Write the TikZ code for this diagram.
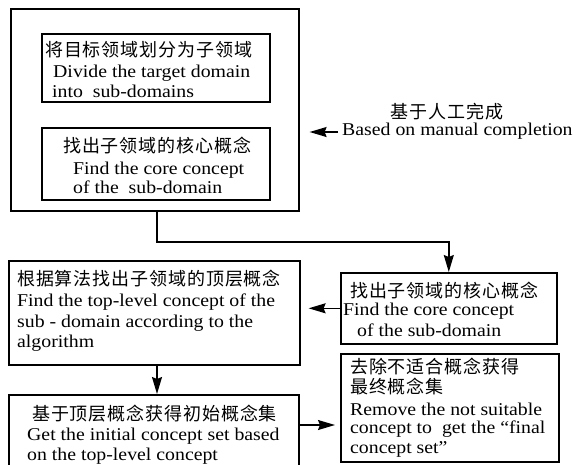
\documentclass[tikz,border=0pt]{standalone}
\usepackage{fontspec}
\setmainfont[FakeStretch=1.1]{Liberation Serif}
\newfontfamily\cjk[LetterSpace=5]{Noto Sans CJK SC}
\usetikzlibrary{arrows.meta,calc}
\begin{document}
\begin{tikzpicture}[x=1pt,y=-1pt,
  box/.style={draw,line width=1.6pt,inner sep=0pt,anchor=north west},
  en/.style={inner sep=0pt,anchor=base west,font=\fontsize{18}{20}\selectfont},
  zh/.style={inner sep=0pt,anchor=base west,font=\cjk\fontsize{18}{20}\selectfont},
  arrow/.style={line width=1.4pt,-{Stealth[length=17pt,width=10pt,inset=2pt]}},
  conn/.style={line width=1.4pt}]
\clip (0,0) rectangle (580,464);
% boxes
\node[box,minimum width=288pt,minimum height=202pt] (outer) at (10,8) {};
\node[box,minimum width=228pt,minimum height=68pt] (b1) at (41,33) {};
\node[box,minimum width=228pt,minimum height=72pt] (b2) at (41,127) {};
\node[box,minimum width=291pt,minimum height=104pt] (b3) at (8,260) {};
\node[box,minimum width=290pt,minimum height=80pt] (b4) at (8,394) {};
\node[box,minimum width=216pt,minimum height=71pt] (b5) at (340,272) {};
\node[box,minimum width=218pt,minimum height=108pt] (b6) at (340,353) {};
% texts b1
\node[zh] (t1a) at (45,56) {将目标领域划分为子领域};
\node[en] (t1b) at (53,77) {Divide the target domain};
\node[en] (t1c) at (52,97) {into\ \ sub-domains};
% texts b2
\node[zh] (t2a) at (63,152) {找出子领域的核心概念};
\node[en] (t2b) at (73,174) {Find the core concept};
\node[en] (t2c) at (73,193) {of the\ \ sub-domain};
% annotation
\node[zh,anchor=base] (an1) at (447,118) {基于人工完成};
\node[en] (an2) at (342,135) {Based on manual completion};
% texts b3
\node[zh] (t3a) at (17,285) {根据算法找出子领域的顶层概念};
\node[en] (t3b) at (17,306) {Find the top-level concept of the};
\node[en] (t3c) at (17,327) {sub - domain according to the};
\node[en] (t3d) at (17,347) {algorithm};
% texts b4
\node[zh] (t4a) at (32,420) {基于顶层概念获得初始概念集};
\node[en] (t4b) at (27,440) {Get the initial concept set based};
\node[en] (t4c) at (27,460) {on the top-level concept};
% texts b5
\node[zh] (t5a) at (350,297) {找出子领域的核心概念};
\node[en] (t5b) at (343,315) {Find the core concept};
\node[en] (t5c) at (357,336) {of the sub-domain};
% texts b6
\node[zh] (t6a) at (350,373) {去除不适合概念获得};
\node[zh] (t6b) at (350,393) {最终概念集};
\node[en] (t6c) at (350,415) {Remove the not suitable};
\node[en] (t6d) at (350,433) {concept to\ \ get the “final};
\node[en] (t6e) at (350,453) {concept set”};
% connectors
\coordinate (k1) at (157,242);
\coordinate (k2) at (0,425);
\coordinate (k3) at (0,132);
\draw[arrow] (outer.south -| k1) -- (k1) -| (b5.north);
\draw[arrow,shorten >=8pt] (b5.west) -- (b5.west -| b3.east);
\draw[arrow] (b3.south -| k1) -- (b4.north -| k1);
\draw[arrow,shorten >=5pt] (b4.east |- k2) -- (b6.west |- k2);
\draw[arrow,shorten >=10pt] (an2.west |- k3) ++(-4,0) -- (outer.east |- k3);
\end{tikzpicture}
\end{document}
